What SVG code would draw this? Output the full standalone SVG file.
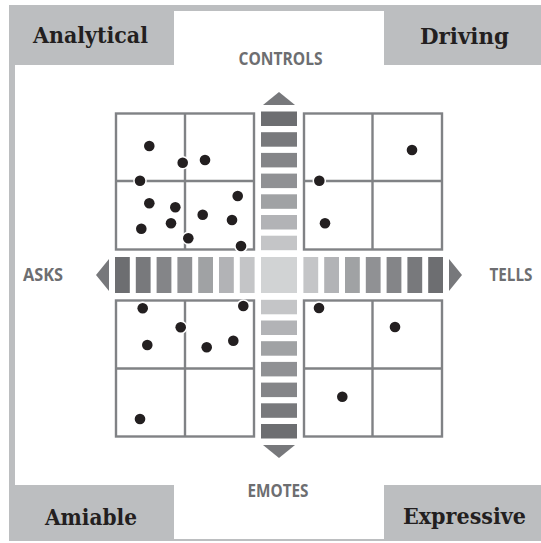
<svg xmlns="http://www.w3.org/2000/svg" width="541" height="543" viewBox="0 0 541 543">
  <style>
    .frame { fill: #bcbec0; }
    .paper { fill: #ffffff; }
    .tag { fill: #bcbec0; }
    .style-name { font-family: "DejaVu Serif", "Liberation Serif", serif; font-weight: bold; font-size: 22px; fill: #231f20; }
    .axis-name { font-family: "Open Sans", "DejaVu Sans", sans-serif; font-weight: 700; font-size: 18px; fill: #6d6e71; }
    .grid { fill: none; stroke: #808285; stroke-width: 2.4; }
    .dot { fill: #231f20; stroke: #ffffff; stroke-width: 3; paint-order: stroke; }
    .arrow { fill: #77787b; }
    .s1 { fill: #6d6e71; }
    .s2 { fill: #78797c; }
    .s3 { fill: #848588; }
    .s4 { fill: #909194; }
    .s5 { fill: #a0a2a4; }
    .s6 { fill: #b2b3b6; }
    .s7 { fill: #c4c5c7; }
    .s0 { fill: #d1d3d4; }
  </style>

  <!-- outer frame -->
  <rect class="frame" x="9" y="5" width="532" height="536"/>
  <rect class="paper" x="15" y="11" width="526" height="528"/>

  <!-- corner style labels -->
  <g id="analytical">
    <rect class="tag" x="9" y="5" width="165" height="60"/>
    <text class="style-name" x="33" y="43" textLength="115" lengthAdjust="spacingAndGlyphs">Analytical</text>
  </g>
  <g id="driving">
    <rect class="tag" x="384" y="5" width="157" height="60"/>
    <text class="style-name" x="420" y="44" textLength="89" lengthAdjust="spacingAndGlyphs">Driving</text>
  </g>
  <g id="amiable">
    <rect class="tag" x="9" y="485" width="165" height="56"/>
    <text class="style-name" x="45" y="525" textLength="92" lengthAdjust="spacingAndGlyphs">Amiable</text>
  </g>
  <g id="expressive">
    <rect class="tag" x="384" y="485" width="157" height="56"/>
    <text class="style-name" x="403" y="524" textLength="123" lengthAdjust="spacingAndGlyphs">Expressive</text>
  </g>

  <!-- axis labels -->
  <g id="axis-labels">
    <text class="axis-name" x="238.5" y="65" textLength="84" lengthAdjust="spacingAndGlyphs">CONTROLS</text>
    <text class="axis-name" x="247.5" y="497" textLength="61" lengthAdjust="spacingAndGlyphs">EMOTES</text>
    <text class="axis-name" x="23" y="281" textLength="40" lengthAdjust="spacingAndGlyphs">ASKS</text>
    <text class="axis-name" x="489.5" y="281" textLength="43" lengthAdjust="spacingAndGlyphs">TELLS</text>
  </g>

  <!-- quadrant grids -->
  <g id="quadrant-top-left">
    <rect class="grid" x="116" y="113.5" width="138" height="136"/>
    <line class="grid" x1="185" y1="113.5" x2="185" y2="249.5"/>
    <line class="grid" x1="116" y1="181" x2="254" y2="181"/>
  </g>
  <g id="quadrant-top-right">
    <rect class="grid" x="304" y="113.5" width="138" height="136"/>
    <line class="grid" x1="372.5" y1="113.5" x2="372.5" y2="249.5"/>
    <line class="grid" x1="304" y1="181" x2="442" y2="181"/>
  </g>
  <g id="quadrant-bottom-left">
    <rect class="grid" x="116" y="300.5" width="138" height="136"/>
    <line class="grid" x1="185" y1="300.5" x2="185" y2="436.5"/>
    <line class="grid" x1="116" y1="368.5" x2="254" y2="368.5"/>
  </g>
  <g id="quadrant-bottom-right">
    <rect class="grid" x="304" y="300.5" width="138" height="136"/>
    <line class="grid" x1="372.5" y1="300.5" x2="372.5" y2="436.5"/>
    <line class="grid" x1="304" y1="368.5" x2="442" y2="368.5"/>
  </g>

  <!-- axes: graded bars with arrowheads -->
  <g id="connectors">
    <!-- vertical axis, top half -->
    <polygon class="arrow" points="279,92 295,105 263,105"/>
    <rect class="s1" x="261" y="111.5" width="36" height="14.5"/>
    <rect class="s2" x="261" y="132.2" width="36" height="14.5"/>
    <rect class="s3" x="261" y="152.9" width="36" height="14.5"/>
    <rect class="s4" x="261" y="173.6" width="36" height="14.5"/>
    <rect class="s5" x="261" y="194.3" width="36" height="14.5"/>
    <rect class="s6" x="261" y="215" width="36" height="14.5"/>
    <rect class="s7" x="261" y="235.7" width="36" height="14.5"/>
    <!-- vertical axis, bottom half -->
    <rect class="s7" x="261" y="299.8" width="36" height="14.5"/>
    <rect class="s6" x="261" y="320.5" width="36" height="14.5"/>
    <rect class="s5" x="261" y="341.2" width="36" height="14.5"/>
    <rect class="s4" x="261" y="361.9" width="36" height="14.5"/>
    <rect class="s3" x="261" y="382.6" width="36" height="14.5"/>
    <rect class="s2" x="261" y="403.3" width="36" height="14.5"/>
    <rect class="s1" x="261" y="424" width="36" height="14.5"/>
    <polygon class="arrow" points="279,458 295,445 263,445"/>
    <!-- horizontal axis, left half -->
    <polygon class="arrow" points="96,275 109,259 109,291"/>
    <rect class="s1" x="115" y="257" width="14.8" height="36"/>
    <rect class="s2" x="135.8" y="257" width="14.8" height="36"/>
    <rect class="s3" x="156.6" y="257" width="14.8" height="36"/>
    <rect class="s4" x="177.4" y="257" width="14.8" height="36"/>
    <rect class="s5" x="198.2" y="257" width="14.8" height="36"/>
    <rect class="s6" x="219" y="257" width="14.8" height="36"/>
    <rect class="s7" x="239.8" y="257" width="14.8" height="36"/>
    <!-- centre square -->
    <rect class="s0" x="261" y="257" width="36" height="36"/>
    <!-- horizontal axis, right half -->
    <rect class="s7" x="303.4" y="257" width="14.8" height="36"/>
    <rect class="s6" x="324.2" y="257" width="14.8" height="36"/>
    <rect class="s5" x="345" y="257" width="14.8" height="36"/>
    <rect class="s4" x="365.8" y="257" width="14.8" height="36"/>
    <rect class="s3" x="386.6" y="257" width="14.8" height="36"/>
    <rect class="s2" x="407.4" y="257" width="14.8" height="36"/>
    <rect class="s1" x="428.2" y="257" width="14.8" height="36"/>
    <polygon class="arrow" points="462,275 449,259 449,291"/>
  </g>

  <!-- plotted points -->
  <g id="points">
    <circle class="dot" cx="149.3" cy="146" r="5.3"/>
    <circle class="dot" cx="182.7" cy="162.7" r="5.3"/>
    <circle class="dot" cx="205" cy="160" r="5.3"/>
    <circle class="dot" cx="140" cy="180.7" r="5.3"/>
    <circle class="dot" cx="149.3" cy="203.3" r="5.3"/>
    <circle class="dot" cx="175.3" cy="207.3" r="5.3"/>
    <circle class="dot" cx="237.7" cy="196" r="5.3"/>
    <circle class="dot" cx="202.7" cy="214.7" r="5.3"/>
    <circle class="dot" cx="232" cy="220" r="5.3"/>
    <circle class="dot" cx="141.3" cy="228.7" r="5.3"/>
    <circle class="dot" cx="171" cy="223.3" r="5.3"/>
    <circle class="dot" cx="188.3" cy="238.3" r="5.3"/>
    <circle class="dot" cx="241" cy="246" r="5.3"/>

    <circle class="dot" cx="412" cy="150" r="5.3"/>
    <circle class="dot" cx="319.3" cy="180.7" r="5.3"/>
    <circle class="dot" cx="325" cy="223.3" r="5.3"/>

    <circle class="dot" cx="142.7" cy="308.3" r="5.3"/>
    <circle class="dot" cx="243.3" cy="306" r="5.3"/>
    <circle class="dot" cx="180.7" cy="327.3" r="5.3"/>
    <circle class="dot" cx="147.3" cy="345" r="5.3"/>
    <circle class="dot" cx="206.7" cy="347.3" r="5.3"/>
    <circle class="dot" cx="233.3" cy="340.7" r="5.3"/>
    <circle class="dot" cx="140" cy="419" r="5.3"/>

    <circle class="dot" cx="319" cy="308" r="5.3"/>
    <circle class="dot" cx="395" cy="327" r="5.3"/>
    <circle class="dot" cx="342.3" cy="396.7" r="5.3"/>
  </g>
</svg>
